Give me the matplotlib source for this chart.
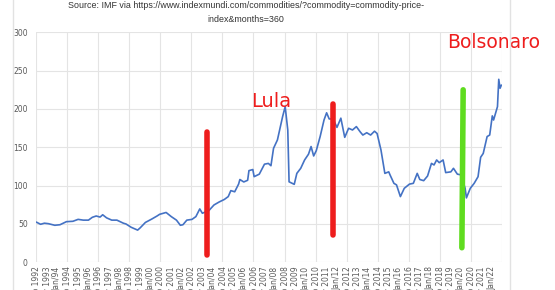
import matplotlib
matplotlib.use("Agg")
import matplotlib.pyplot as plt
import matplotlib.ticker as ticker
from matplotlib.lines import Line2D

# IMF commodity price index, monthly, month 0 = Sep 1992
month_idx = [0, 3, 6, 9, 14, 18, 23, 28, 32, 36, 40, 43, 46, 49, 51, 54, 58, 62,
             67, 69, 73, 78, 80, 84, 89, 93, 95, 100, 104, 108, 111, 113, 116,
             120, 123, 126, 128, 133, 137, 141, 145, 148, 150, 153, 156, 157,
             160, 163, 164, 167, 168, 172, 176, 179, 181, 183, 186, 190, 192,
             194, 195, 199, 201, 204, 207, 210, 212, 214, 216, 219, 222, 224,
             226, 229, 232, 235, 238, 241, 244, 247, 250, 252, 255, 258, 261,
             263, 266, 269, 272, 273, 276, 278, 281, 284, 288, 291, 294, 296,
             299, 302, 305, 307, 309, 311, 314, 316, 320, 322, 325, 328, 331,
             332, 335, 338, 341, 343, 345, 348, 350, 352, 353, 356, 357, 358,
             359]
index_vals = [52.2, 49.6, 51.0, 50.4, 48.3, 49.0, 53.0, 53.5, 56.0, 55.0, 55.0,
              58.7, 60.4, 59.0, 62.0, 58.0, 55.0, 55.0, 51.0, 50.0, 45.7, 42.0,
              45.0, 52.0, 56.5, 60.4, 62.6, 65.0, 59.6, 55.0, 48.3, 49.0, 55.0,
              56.0, 59.6, 69.6, 64.0, 67.4, 74.8, 78.7, 82.0, 85.7, 93.5, 92.0,
              102.0, 108.0, 104.8, 107.0, 119.6, 121.0, 111.7, 115.0, 128.0,
              129.0, 126.0, 148.7, 159.6, 190.0, 203.0, 172.6, 105.0, 101.7,
              116.0, 122.6, 133.5, 141.0, 151.0, 138.7, 145.6, 164.0, 185.6,
              195.0, 187.0, 187.0, 176.0, 188.0, 163.0, 174.8, 172.6, 177.0,
              170.0, 166.0, 169.0, 166.0, 171.0, 168.0, 146.5, 116.0, 118.0,
              114.0, 103.0, 101.0, 85.7, 96.5, 102.0, 103.0, 116.0, 108.0,
              106.5, 112.6, 129.0, 127.0, 133.5, 130.0, 133.5, 117.0, 118.0,
              122.6, 115.0, 114.0, 96.5, 84.0, 96.5, 103.0, 111.7, 137.0, 142.0,
              164.0, 166.0, 191.0, 185.6, 203.0, 238.7, 227.0, 231.0]

tick_labels = ["Sep 1992", "May 1993", "Jan/94", "Sep 1994", "May 1995", "Jan/96",
               "Sep 1996", "May 1997", "Jan/98", "Sep 1998", "May 1999", "Jan/00",
               "Sep 2000", "May 2001", "Jan/02", "Sep 2002", "May 2003", "Jan/04",
               "Sep 2004", "May 2005", "Jan/06", "Sep 2006", "May 2007", "Jan/08",
               "Sep 2008", "May 2009", "Jan/10", "Sep 2010", "May 2011", "Jan/12",
               "Sep 2012", "May 2013", "Jan/14", "Sep 2014", "May 2015", "Jan/16",
               "Sep 2016", "May 2017", "Jan/18", "Sep 2018", "May 2019", "Jan/20",
               "Sep 2020", "May 2021", "Jan/22"]
tick_step = 8

# hand-drawn marker bars: (month top, value top, month bottom, value bottom)
red_bars = [(131.5, 169.5, 131.5, 9.0), (229, 207, 229, 35)]
green_bar = (329.5, 225, 328.5, 19)

title = ("Source: IMF via https://www.indexmundi.com/commodities/?commodity=commodity-price-\n"
         "index&months=360")

fig = plt.figure(figsize=(5.55, 2.9), dpi=100)
ax = fig.add_axes([0.0649, 0.0955, 0.8396, 0.7931])

ax.plot(month_idx, index_vals, color="#4472c4", lw=1.2, zorder=3)

for mt, vt, mb, vb in red_bars:
    ax.plot([mt, mb], [vt, vb], color="#ee1d1d", lw=4, solid_capstyle="round",
            zorder=4)
ax.plot([green_bar[0], green_bar[2]], [green_bar[1], green_bar[3]],
        color="#5fdc1f", lw=4, solid_capstyle="round", zorder=4)

ax.text(181.5, 202, "Lula", color="#ee1d1d", fontsize=14, ha="center",
        va="baseline", zorder=5)
ax.text(353, 280, "Bolsonaro", color="#ee1d1d", fontsize=13.5, ha="center",
        va="baseline", clip_on=False, zorder=5)

ax.set_xlim(-0.5, 359.5)
ax.set_ylim(0, 300)
ax.yaxis.set_major_locator(ticker.MultipleLocator(50))
ax.set_xticks(range(0, tick_step * len(tick_labels), tick_step))
ax.set_xticklabels(tick_labels, rotation=90, fontsize=5.5, color="#595959")
ax.xaxis.set_minor_locator(ticker.FixedLocator([-0.5 + 24 * i for i in range(16)]))
ax.tick_params(axis="y", labelsize=5.5, labelcolor="#595959", length=0, pad=6)
ax.tick_params(axis="x", which="both", length=0, pad=3)

ax.grid(True, which="major", axis="y", color="#e4e4e4", lw=0.8)
ax.grid(True, which="minor", axis="x", color="#e4e4e4", lw=0.8)
for s in ax.spines.values():
    s.set_visible(False)

fig.text(246 / 555, 0.997, title, ha="center", va="top", fontsize=6.4,
         family="Liberation Sans", color="#333333", linespacing=1.75)

# chart frame edges from the screenshot
fig.add_artist(Line2D([13 / 555, 13 / 555], [0, 1], color="#e2e2e2", lw=1))
fig.add_artist(Line2D([510 / 555, 510 / 555], [0, 1], color="#e2e2e2", lw=1))

fig.savefig("out.png", dpi=100)
